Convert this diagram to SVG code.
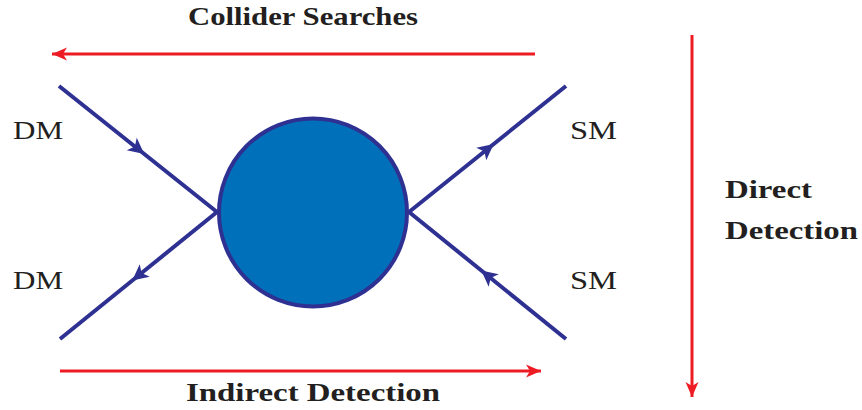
<svg xmlns="http://www.w3.org/2000/svg" width="862" height="410" viewBox="0 0 862 410">
  <style>
    .lbl { font-family: "Liberation Serif", "Times New Roman", serif; fill: #231F20; font-size: 25px; }
    .bold { font-weight: bold; font-size: 26px; }
    .fermion { fill: none; stroke: #2E3192; stroke-width: 4; stroke-linecap: butt; marker-mid: url(#fa); }
    .probe { fill: none; stroke: #ED1C24; stroke-width: 3; marker-end: url(#ra); }
  </style>
  <defs>
    <marker id="fa" markerUnits="userSpaceOnUse" viewBox="-12 -12 24 24" markerWidth="24" markerHeight="24" refX="0" refY="0" orient="auto">
      <path d="M -8,-8 L 8,0 L -8,8 L -4,0 Z" fill="#2E3192"/>
    </marker>
    <marker id="ra" markerUnits="userSpaceOnUse" viewBox="-16 -8 18 16" markerWidth="18" markerHeight="16" refX="0" refY="0" orient="auto">
      <path d="M -15,-6.5 L 0,0 L -15,6.5 L -11,0 Z" fill="#ED1C24"/>
    </marker>
  </defs>

  <g id="connectors">
    <polyline id="dm-in" class="fermion" points="59,86 138,149 217,212"/>
    <polyline id="dm-out" class="fermion" points="217,212 138.5,275.5 60,339"/>
    <polyline id="sm-out" class="fermion" points="409,212 487.5,149 566,86"/>
    <polyline id="sm-in" class="fermion" points="566,339 487.5,275.5 409,212"/>
    <line id="collider" class="probe" x1="535" y1="54" x2="52" y2="54"/>
    <line id="indirect" class="probe" x1="60" y1="371" x2="541" y2="371"/>
    <line id="direct" class="probe" x1="692" y1="35" x2="692" y2="397"/>
  </g>

  <g id="blob">
    <circle cx="313" cy="212.5" r="94" fill="#0070BA" stroke="#2E3192" stroke-width="4"/>
  </g>

  <g id="dm-top"><text class="lbl" x="13" y="139" textLength="50" lengthAdjust="spacingAndGlyphs">DM</text></g>
  <g id="dm-bottom"><text class="lbl" x="13" y="289" textLength="50" lengthAdjust="spacingAndGlyphs">DM</text></g>
  <g id="sm-top"><text class="lbl" x="570" y="139" textLength="47" lengthAdjust="spacingAndGlyphs">SM</text></g>
  <g id="sm-bottom"><text class="lbl" x="570" y="289" textLength="47" lengthAdjust="spacingAndGlyphs">SM</text></g>

  <g id="label-collider"><text class="lbl bold" x="188" y="25" textLength="230" lengthAdjust="spacingAndGlyphs">Collider Searches</text></g>
  <g id="label-indirect"><text class="lbl bold" x="186" y="401" textLength="254" lengthAdjust="spacingAndGlyphs">Indirect Detection</text></g>
  <g id="label-direct">
    <text class="lbl bold" x="725" y="198" textLength="87" lengthAdjust="spacingAndGlyphs">Direct</text>
    <text class="lbl bold" x="725" y="239" textLength="133" lengthAdjust="spacingAndGlyphs">Detection</text>
  </g>
</svg>
